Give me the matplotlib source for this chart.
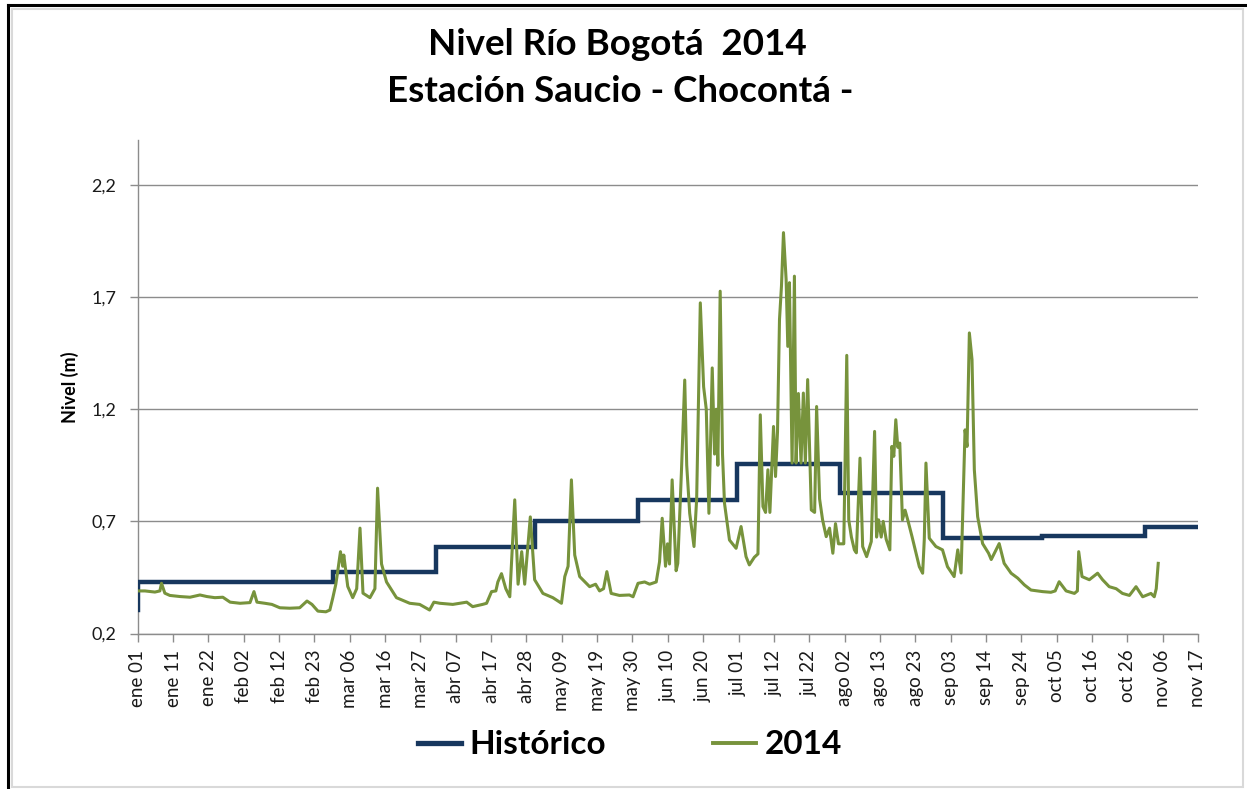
import numpy as np
import matplotlib
matplotlib.use("Agg")
import matplotlib.pyplot as plt
from matplotlib.patches import Rectangle
from matplotlib.lines import Line2D

# ---------------- data ----------------
title_1 = "Nivel Río Bogotá  2014"
title_2 = "Estación Saucio - Chocontá -"
y_label = "Nivel (m)"
series_names = ["Histórico", "2014"]

# Historical monthly level (step series)
hist_dates = ["2014-01-01 00:00", "2014-01-01 04:00", "2014-03-01", "2014-04-01",
              "2014-05-01", "2014-06-01", "2014-07-01", "2014-08-01",
              "2014-09-01", "2014-10-01", "2014-11-01", "2014-11-17"]
hist_level = [0.305, 0.43, 0.476, 0.588, 0.70, 0.796, 0.957, 0.826,
              0.625, 0.635, 0.674, 0.674]

# 2014 observed level: days elapsed since 2014-01-01 and level (m)
days_2014 = [0.0, 2.2, 5.2, 6.7, 7.2, 8.2, 9.7, 12.8, 15.8, 18.8, 20.9, 23.3, 25.7, 27.9,
             30.9, 33.9, 35.1, 36.0, 38.4, 40.5, 42.9, 45.9, 48.9, 51.1, 52.6, 54.4, 56.8,
             58.0, 58.9, 59.8, 60.4, 61.2, 61.9, 62.2, 63.4, 64.9, 66.1, 67.1, 68.0, 70.1,
             71.6, 72.4, 73.6, 75.1, 78.1, 82.1, 85.1, 88.1, 89.4, 91.2, 95.1, 97.2, 99.3,
             101.1, 104.1, 105.3, 106.8, 108.1, 108.7, 109.8, 111.1, 112.3, 113.8, 114.8,
             115.9, 116.8, 118.5, 119.8, 122.3, 125.3, 127.9, 128.9, 129.9, 130.9, 131.9,
             133.4, 136.4, 138.2, 139.4, 140.6, 141.6, 142.9, 145.4, 148.4, 149.5, 151.0,
             153.0, 154.5, 156.5, 157.5, 158.3, 159.3, 159.9, 160.5, 161.3, 162.5, 163.0,
             164.1, 165.1, 165.7, 166.6, 167.9, 168.7, 169.8, 170.8, 171.6, 172.4, 173.4,
             174.1, 174.6, 175.1, 175.8, 176.5, 177.1, 178.6, 180.6, 182.1, 183.6, 184.6,
             186.1, 187.2, 187.9, 188.7, 189.5, 190.2, 190.8, 191.9, 192.5, 193.1, 193.7,
             194.3, 194.9, 195.7, 196.2, 196.7, 197.5, 198.2, 198.7, 199.4, 200.2, 200.9,
             201.5, 202.2, 203.3, 204.3, 204.9, 205.8, 206.7, 207.8, 208.8, 209.8, 210.6,
             211.5, 213.1, 214.0, 214.6, 215.4, 216.3, 216.9, 218.0, 218.8, 220.0, 221.4,
             222.4, 223.0, 223.6, 224.4, 225.0, 225.9, 227.0, 227.6, 228.2, 228.8, 229.4,
             230.0, 230.8, 231.6, 232.4, 233.7, 234.9, 235.9, 236.9, 237.4, 237.9, 238.9,
             240.9, 242.9, 244.4, 246.4, 247.5, 248.5, 249.7, 250.3, 251.0, 251.8, 252.5,
             253.5, 255.0, 256.8, 257.6, 258.6, 260.0, 261.5, 263.6, 265.6, 267.6, 269.6,
             273.1, 275.6, 276.9, 278.1, 280.2, 282.7, 283.6, 284.0, 285.0, 287.2, 289.7,
             291.2, 293.2, 295.3, 297.2, 299.3, 301.3, 303.3, 305.8, 306.8, 307.4, 308.0]
level_2014 = [0.39, 0.39, 0.385, 0.39, 0.424, 0.38, 0.37, 0.365, 0.362, 0.372, 0.365, 0.36,
              0.362, 0.34, 0.335, 0.338, 0.387, 0.34, 0.335, 0.33, 0.315, 0.313, 0.315, 0.345,
              0.33, 0.30, 0.297, 0.305, 0.36, 0.42, 0.48, 0.565, 0.50, 0.55, 0.41, 0.36, 0.40,
              0.67, 0.38, 0.36, 0.40, 0.848, 0.51, 0.43, 0.36, 0.335, 0.33, 0.305, 0.34, 0.335,
              0.33, 0.335, 0.34, 0.32, 0.33, 0.335, 0.387, 0.39, 0.43, 0.467, 0.40, 0.364,
              0.796, 0.42, 0.565, 0.42, 0.72, 0.44, 0.379, 0.36, 0.335, 0.454, 0.50, 0.885,
              0.55, 0.454, 0.409, 0.42, 0.39, 0.40, 0.476, 0.379, 0.37, 0.372, 0.364, 0.424,
              0.43, 0.42, 0.43, 0.52, 0.714, 0.50, 0.60, 0.51, 0.885, 0.48, 0.513, 0.92, 1.33,
              0.95, 0.736, 0.588, 0.80, 1.674, 1.30, 1.20, 0.736, 1.384, 1.00, 1.20, 0.95,
              1.726, 1.00, 0.781, 0.617, 0.58, 0.677, 0.543, 0.506, 0.54, 0.555, 1.175, 0.766,
              0.74, 0.93, 0.74, 1.123, 0.90, 1.10, 1.60, 1.75, 1.987, 1.778, 1.48, 1.764, 0.96,
              1.793, 0.96, 1.27, 0.96, 1.272, 0.96, 1.332, 0.751, 0.74, 1.212, 0.80, 0.707,
              0.632, 0.67, 0.558, 0.69, 0.60, 0.60, 1.44, 0.707, 0.63, 0.573, 0.56, 0.982,
              0.588, 0.543, 0.61, 1.101, 0.63, 0.707, 0.63, 0.70, 0.62, 0.573, 1.034, 0.99,
              1.153, 1.03, 1.049, 0.707, 0.75, 0.707, 0.632, 0.558, 0.498, 0.469, 0.62, 0.96,
              0.625, 0.588, 0.573, 0.498, 0.454, 0.573, 0.47, 1.108, 1.034, 1.54, 1.421, 0.93,
              0.721, 0.601, 0.558, 0.53, 0.56, 0.601, 0.513, 0.469, 0.447, 0.417, 0.394, 0.387,
              0.384, 0.39, 0.431, 0.39, 0.379, 0.39, 0.565, 0.454, 0.44, 0.469, 0.44, 0.409,
              0.40, 0.379, 0.37, 0.409, 0.364, 0.379, 0.364, 0.40, 0.513]

tick_labels = ["ene 01", "ene 11", "ene 22", "feb 02", "feb 12", "feb 23", "mar 06",
               "mar 16", "mar 27", "abr 07", "abr 17", "abr 28", "may 09", "may 19",
               "may 30", "jun 10", "jun 20", "jul 01", "jul 12", "jul 22", "ago 02",
               "ago 13", "ago 23", "sep 03", "sep 14", "sep 24", "oct 05", "oct 16",
               "oct 26", "nov 06", "nov 17"]
y_ticks = [0.2, 0.7, 1.2, 1.7, 2.2]
y_tick_labels = ["0,2", "0,7", "1,2", "1,7", "2,2"]
x_start, x_end = "2014-01-01", "2014-11-17"
y_min, y_max = 0.2, 2.4

# ---------------- styling ----------------
C_HIST = "#17375E"
C_2014 = "#77933C"
C_GRID = "#8C8C8C"
FONT = ["Lato", "DejaVu Sans"]

plt.rcParams["font.family"] = FONT

fig = plt.figure(figsize=(12.47, 7.89), dpi=100)
ax = fig.add_axes([0.1104, 0.197, 0.8503, 0.6256])

base = np.datetime64("2014-01-01T00:00")
x2014 = base + (np.array(days_2014) * 24 * 60).round().astype("timedelta64[m]")
xhist = np.array(hist_dates, dtype="datetime64[m]")

ax.plot(xhist, hist_level, color=C_HIST, lw=3.2, drawstyle="steps-post",
        solid_joinstyle="miter", zorder=3)
ax.plot(x2014, level_2014, color=C_2014, lw=2.2, zorder=4)

x0 = np.datetime64(x_start, "m")
x1 = np.datetime64(x_end, "m")
ax.set_xlim(x0, x1)
ax.set_ylim(y_min, y_max)

tick_pos = x0 + ((x1 - x0) / (len(tick_labels) - 1)) * np.arange(len(tick_labels))
ax.set_xticks(tick_pos)
ax.set_xticklabels(tick_labels, rotation=90, fontsize=13.5, color="#1a1a1a")
ax.set_yticks(y_ticks)
ax.set_yticklabels(y_tick_labels, fontsize=13, color="#1a1a1a")

ax.grid(axis="y", color=C_GRID, lw=1.0)
ax.set_axisbelow(True)
for s in ["top", "right"]:
    ax.spines[s].set_visible(False)
for s in ["left", "bottom"]:
    ax.spines[s].set_color(C_GRID)
    ax.spines[s].set_linewidth(1.0)
ax.tick_params(axis="both", direction="out", length=5.5, color=C_GRID, width=1.0)
ax.tick_params(axis="x", pad=6)
ax.tick_params(axis="y", pad=10)

ax.set_ylabel(y_label, fontsize=13, fontweight="bold", labelpad=9)

fig.text(0.495, 0.944, title_1, ha="center", va="center", fontsize=26.5, fontweight="bold")
fig.text(0.497, 0.884, title_2, ha="center", va="center", fontsize=26.5, fontweight="bold")

handles = [Line2D([], [], color=C_HIST, lw=3.8), Line2D([], [], color=C_2014, lw=2.8)]
fig.legend(handles, series_names, loc="center", bbox_to_anchor=(0.505, 0.056), ncol=2,
           frameon=False, prop={"family": FONT, "weight": "bold", "size": 24},
           handlelength=1.3, handletextpad=0.25, columnspacing=3.2)

# chart frame
fig.add_artist(Rectangle((12 / 1247, 2 / 789), 1231 / 1247, 778 / 789,
                         transform=fig.transFigure, fill=False, ec="#D9D9D9", lw=1.5))
fig.add_artist(Line2D([8 / 1247, 8 / 1247], [0, 1 - 5 / 789], transform=fig.transFigure,
                      color="black", lw=2.2))
fig.add_artist(Line2D([8 / 1247, 1], [1 - 5 / 789, 1 - 5 / 789], transform=fig.transFigure,
                      color="black", lw=2.2))

fig.savefig("out.png", dpi=100, facecolor="white")
